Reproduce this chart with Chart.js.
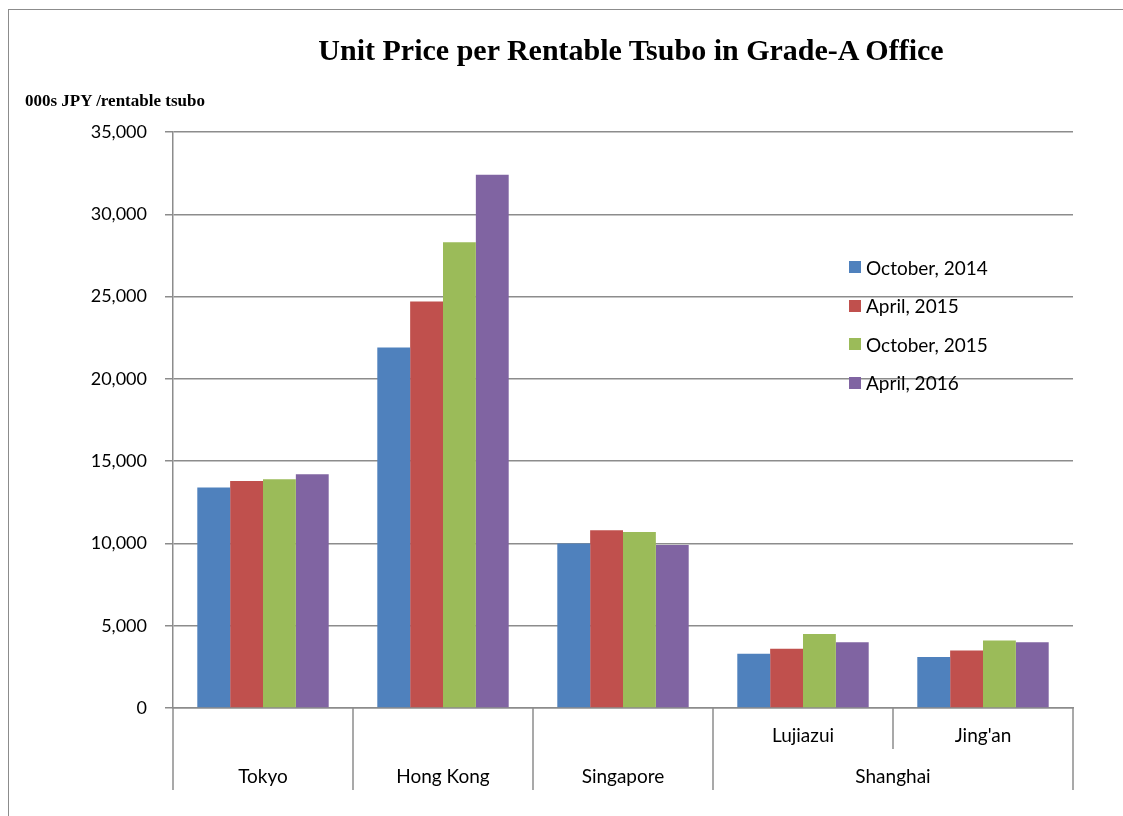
<!DOCTYPE html>
<html>
<head>
<meta charset="utf-8">
<script src="https://cdn.jsdelivr.net/npm/chart.js@4"></script>
<style>
  html, body { margin: 0; padding: 0; background: #fff; }
  #wrap { position: relative; width: 1123px; height: 816px; overflow: hidden; }
  #frame { position: absolute; left: 8px; top: 9px; width: 1200px; height: 900px;
           border-left: 1.5px solid #8c8c8c; border-top: 1.5px solid #8c8c8c; }
  #title { position: absolute; left: 0; width: 1262px; top: 33px; text-align: center;
           font: bold 30px "Liberation Serif", "Times New Roman", serif; color: #000; }
  #ytitle { position: absolute; left: 25px; top: 91px;
            font: bold 17px "Liberation Serif", "Times New Roman", serif; color: #000; }
  #legend { position: absolute; left: 849px; top: 248px; font: 19px Lato, sans-serif; color: #000; }
  #legend div { height: 38.5px; display: flex; align-items: center; }
  #legend span.box { display: inline-block; width: 12px; height: 12px; margin-right: 5px; }
  canvas { position: absolute; left: 0; top: 0; }
</style>
</head>
<body>
<div id="wrap">
  <div id="frame"></div>
  <canvas id="grafico" width="1123" height="816"></canvas>
  <div id="title">Unit Price per Rentable Tsubo in Grade-A Office</div>
  <div id="ytitle">000s JPY /rentable tsubo</div>
  <div id="legend"></div>
</div>
<script>
// ====== DADOS ======
const areas = ["Tokyo", "Hong Kong", "Singapore", "Lujiazui", "Jing'an"];
const innerLabels = ["", "", "", "Lujiazui", "Jing'an"];
const outerLabels = ["Tokyo", "Hong Kong", "Singapore", "Shanghai"];
const outerSpans = [1, 1, 1, 2];

const seriesNames = ["October, 2014", "April, 2015", "October, 2015", "April, 2016"];
const oct2014 = [13400, 21900, 10000, 3300, 3100];
const apr2015 = [13800, 24700, 10800, 3600, 3500];
const oct2015 = [13900, 28300, 10700, 4500, 4100];
const apr2016 = [14200, 32400, 9900, 4000, 4000];
const cores = ["#4F81BD", "#C0504D", "#9BBB59", "#8064A2"];

const yMax = 35000;
const yStep = 5000;

// ====== LEGENDA ======
const legendDiv = document.getElementById("legend");
seriesNames.forEach((nome, i) => {
  const row = document.createElement("div");
  row.innerHTML = `<span class="box" style="background:${cores[i]}"></span>${nome}`;
  legendDiv.appendChild(row);
});

// ====== EIXO X EM DOIS NIVEIS ======
const gridCor = "#8c8c8c";
const eixoCategorias = {
  id: "eixoCategorias",
  afterDraw(chart) {
    const c = chart.ctx;
    const x = chart.scales.x;
    const area = chart.chartArea;
    const passo = x.width / areas.length;
    const yBase = area.bottom;
    const yMeio = yBase + 41;
    const yFim = yBase + 82;

    c.save();
    c.strokeStyle = gridCor;
    c.lineWidth = 1.5;
    c.fillStyle = "#000";
    c.font = "19px Lato, sans-serif";
    c.textAlign = "center";
    c.textBaseline = "middle";

    // separadores
    let idx = 0;
    const fronteiras = [0];
    outerSpans.forEach(s => { idx += s; fronteiras.push(idx); });
    for (let i = 0; i <= areas.length; i++) {
      const px = x.getPixelForValue(0) - passo / 2 + i * passo;
      const cheio = fronteiras.includes(i);
      c.beginPath();
      c.moveTo(px, yBase);
      c.lineTo(px, cheio ? yFim : yMeio);
      c.stroke();
    }

    // rótulos internos
    innerLabels.forEach((t, i) => {
      if (t) c.fillText(t, x.getPixelForValue(i), yBase + 28);
    });

    // rótulos externos
    let ini = 0;
    outerLabels.forEach((t, k) => {
      const fim = ini + outerSpans[k] - 1;
      const px = (x.getPixelForValue(ini) + x.getPixelForValue(fim)) / 2;
      c.fillText(t, px, yBase + 69);
      ini = fim + 1;
    });
    c.restore();
  }
};

// ====== GRÁFICO ======
const ctx = document.getElementById("grafico").getContext("2d");
const valores = [oct2014, apr2015, oct2015, apr2016];

new Chart(ctx, {
  type: "bar",
  data: {
    labels: areas,
    datasets: seriesNames.map((nome, i) => ({
      label: nome,
      data: valores[i],
      backgroundColor: cores[i],
      categoryPercentage: 0.73,
      barPercentage: 1
    }))
  },
  options: {
    responsive: false,
    animation: false,
    layout: { padding: { top: 132, right: 50, bottom: 0, left: 0 } },
    plugins: { legend: { display: false }, title: { display: false }, tooltip: { enabled: false } },
    scales: {
      x: {
        grid: { display: false },
        border: { display: true, color: gridCor, width: 1.5 },
        ticks: { display: false },
        afterFit: (s) => { s.height = 108; }
      },
      y: {
        min: 0,
        max: yMax,
        grid: { color: gridCor, lineWidth: 1.5, tickLength: 8 },
        border: { display: true, color: gridCor, width: 1.5 },
        ticks: {
          stepSize: yStep,
          padding: 18,
          color: "#000",
          font: { family: "Lato", size: 18 },
          callback: (v) => v.toLocaleString("en-US")
        },
        afterFit: (s) => { s.width = 173; }
      }
    }
  },
  plugins: [eixoCategorias]
});
</script>
</body>
</html>
